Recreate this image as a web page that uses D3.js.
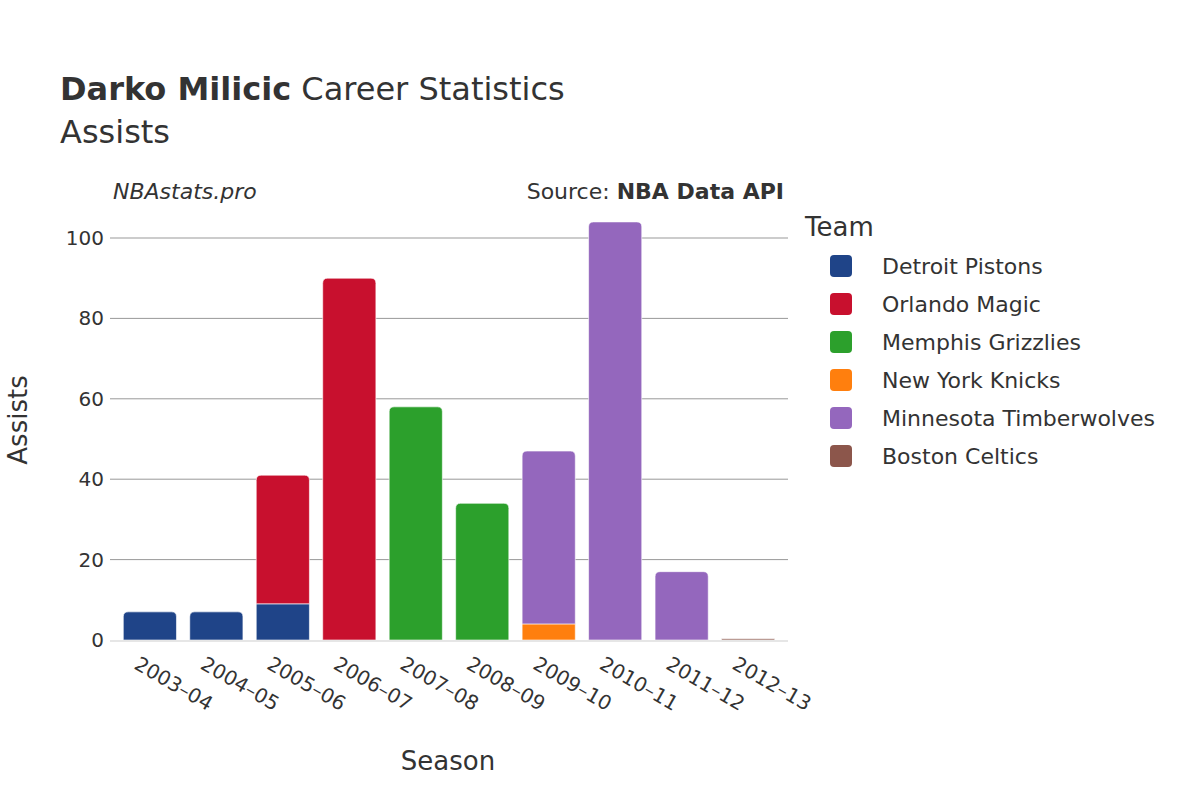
<!DOCTYPE html>
<html><head><meta charset="utf-8">
<script src="https://cdn.jsdelivr.net/npm/d3@7"></script>
<style>body{margin:0;background:#fff;font-family:"DejaVu Sans","Noto Sans",sans-serif;}</style>
</head><body><div id="chart"></div>
<script>
var seasons = ["2003–04","2004–05","2005–06","2006–07","2007–08","2008–09","2009–10","2010–11","2011–12","2012–13"];
var teams = ["Detroit Pistons","Orlando Magic","Memphis Grizzlies","New York Knicks","Minnesota Timberwolves","Boston Celtics"];
var teamColors = ["#1f4488","#c8102e","#2ca02c","#ff7f0e","#9467bd","#8c564b"];
// assists per season per team (same order as teams)
var detroit   = [7,7,9,0,0,0,0,0,0,0];
var orlando   = [0,0,32,90,0,0,0,0,0,0];
var memphis   = [0,0,0,0,58,34,0,0,0,0];
var newyork   = [0,0,0,0,0,0,4,0,0,0];
var minnesota = [0,0,0,0,0,0,43,104,17,0];
var boston    = [0,0,0,0,0,0,0,0,0,0.3];
var yTicks = [0,20,40,60,80,100];

var series = [detroit, orlando, memphis, newyork, minnesota, boston];
var W = 1200, H = 800;
var plotL = 110, plotR = 788, plotT = 220, plotB = 640;

var svg = d3.select("#chart").append("svg").attr("width", W).attr("height", H);

var x = d3.scaleBand().domain(seasons).range([plotL, plotR]).padding(0.2);
var y = d3.scaleLinear().domain([0, (plotB - plotT) / 4.02]).range([plotB, plotT]);

svg.append("g").selectAll("line").data(yTicks.filter(function(d){return d>0;})).enter()
  .append("line").attr("x1", plotL).attr("x2", plotR)
  .attr("y1", function(d){return y(d);}).attr("y2", function(d){return y(d);})
  .attr("stroke", "#999").attr("stroke-width", 1);

svg.append("g").selectAll("text").data(yTicks).enter().append("text")
  .attr("x", plotL - 6).attr("y", function(d){return y(d);}).attr("dy", "0.35em")
  .attr("text-anchor", "end").attr("font-size", 20).attr("fill", "#333")
  .text(function(d){return d;});

// stacked bars
seasons.forEach(function(s, i){
  var base = 0;
  var topIdx = -1;
  series.forEach(function(arr, t){ if (arr[i] > 0) topIdx = t; });
  series.forEach(function(arr, t){
    var v = arr[i];
    if (!v) return;
    var x0 = x(s), w = x.bandwidth(), y0 = y(base), y1 = y(base + v), r = (t === topIdx && v > 1) ? 5 : 0;
    var h = y0 - y1;
    r = Math.min(r, h);
    var p = "M" + x0 + "," + y0 + "V" + (y1 + r) + "Q" + x0 + "," + y1 + " " + (x0 + r) + "," + y1 +
      "H" + (x0 + w - r) + "Q" + (x0 + w) + "," + y1 + " " + (x0 + w) + "," + (y1 + r) + "V" + y0 + "Z";
    svg.append("path").attr("d", p).attr("fill", teamColors[t])
      .attr("stroke", "#fff").attr("stroke-opacity", 0.6).attr("stroke-width", 1);
    base += v;
  });
});

svg.append("line").attr("x1", plotL).attr("x2", plotR).attr("y1", plotB + 1).attr("y2", plotB + 1)
  .attr("stroke", "#e6e6e6").attr("stroke-width", 2);

svg.append("g").selectAll("text").data(seasons).enter().append("text")
  .attr("transform", function(d){ return "translate(" + (x(d) + x.bandwidth()/2 - 10) + "," + (plotB + 16) + ") rotate(30)"; })
  .attr("font-size", 20).attr("fill", "#333").attr("dy", "0.7em")
  .text(function(d){return d;});

svg.append("text").attr("x", 448).attr("y", 770).attr("text-anchor", "middle")
  .attr("font-size", 26).attr("fill", "#333").text("Season");
svg.append("text").attr("transform", "translate(27,420) rotate(-90)").attr("text-anchor", "middle")
  .attr("font-size", 26).attr("fill", "#333").text("Assists");

var title = svg.append("text").attr("x", 60).attr("y", 100).attr("font-size", 32).attr("fill", "#333");
title.append("tspan").attr("font-weight", "bold").text("Darko Milicic");
title.append("tspan").text(" Career Statistics");
svg.append("text").attr("x", 60).attr("y", 143).attr("font-size", 32).attr("fill", "#333").text("Assists");

svg.append("text").attr("x", 113).attr("y", 199).attr("font-size", 22).attr("font-style", "italic")
  .attr("fill", "#333").text("NBAstats.pro");
var src = svg.append("text").attr("x", 784).attr("y", 199).attr("text-anchor", "end").attr("font-size", 22).attr("fill", "#333");
src.append("tspan").text("Source: ");
src.append("tspan").attr("font-weight", "bold").text("NBA Data API");

svg.append("text").attr("x", 805).attr("y", 236).attr("font-size", 26).attr("fill", "#333").text("Team");
var lg = svg.append("g").selectAll("g").data(teams).enter().append("g")
  .attr("transform", function(d, i){ return "translate(830," + (266 + i * 38) + ")"; });
lg.append("rect").attr("x", 0).attr("y", -11).attr("width", 22).attr("height", 22).attr("rx", 4)
  .attr("fill", function(d, i){ return teamColors[i]; });
lg.append("text").attr("x", 52).attr("dy", "0.35em").attr("font-size", 22).attr("fill", "#333")
  .text(function(d){return d;});
</script></body></html>
